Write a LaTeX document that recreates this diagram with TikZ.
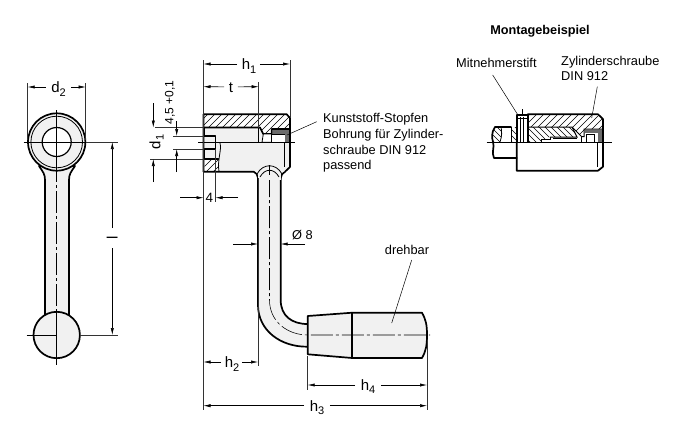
\documentclass[tikz,border=0pt]{standalone}
\usepackage{fontspec}
\setmainfont{Liberation Sans}
\usetikzlibrary{arrows.meta,calc}
\definecolor{bodyfill}{gray}{0.945}
\definecolor{plug}{gray}{0.42}
\tikzset{
  part/.style={line width=1.7pt,line join=round,line cap=round},
  partfill/.style={part,fill=bodyfill},
  thinpart/.style={line width=0.8pt},
  extline/.style={line width=0.45pt,black!80},
  dimin/.style={line width=0.55pt,-{Latex[length=7pt,width=3.2pt]}},
  leader/.style={line width=0.5pt},
  centre/.style={line width=0.55pt,dash pattern=on 22pt off 3pt on 3pt off 3pt},
  axis/.style={line width=0.55pt},
  big/.style={font=\fontsize{15}{15}\selectfont,inner sep=0.5pt},
  note/.style={font=\fontsize{12.8}{15.6}\selectfont,align=left,anchor=north west,inner sep=0pt},
  tag/.style={font=\fontsize{12.8}{15}\selectfont,inner sep=0pt},
}
\newcommand{\sbs}[1]{\raisebox{-0.4ex}{\fontsize{11}{11}\selectfont #1}}
\newcommand{\hatchreg}[1]{\fill[white] #1;\begin{scope}\clip #1;
  \foreach \k in {0,7,...,805}{\draw[line width=0.45pt] (\k,0) -- ++(-200,200);}
  \end{scope}}
\newcommand{\hatchback}[1]{\fill[white] #1;\begin{scope}\clip #1;
  \foreach \k in {-200,-194,...,700}{\draw[line width=0.45pt] (\k,0) -- ++(200,200);}
  \end{scope}}
\begin{document}
\begin{tikzpicture}[x=1pt,y=-1pt]
\useasboundingbox (0,0) rectangle (677,437);
%% ---------- left view
\coordinate (tc) at (56.7,142);
\coordinate (bc) at (56.7,335);
\draw[partfill] (39,166) .. controls (43,172) and (45,174) .. (45,180) -- (45,320) -- (69,320) -- (69,180) .. controls (69,174) and (71,172) .. (75,166) -- cycle;
\draw[partfill] (tc) circle[radius=28.7];
\draw[thinpart] (tc) circle[radius=25.8];
\draw[line width=1.2pt,fill=white] (tc) circle[radius=14.5];
\draw[partfill] (bc) circle[radius=23.2];
\draw[axis] ($(tc)+(-33,0)$) -- ($(tc)+(33,0)$);
\draw[axis] ($(tc)+(0,-32)$) -- ($(tc)+(0,18)$);
\draw[centre] ($(tc)+(0,18)$) -- ($(bc)+(0,-23)$);
\draw[axis] ($(bc)+(-30,0)$) -- ($(bc)+(0,0)$);
\draw[axis] ($(bc)+(0,-23)$) -- ($(bc)+(0,30)$);
\coordinate (d2a) at (27.7,87); \coordinate (d2b) at (85.7,87);
\draw[extline] (27.7,83) -- (27.7,140);
\draw[extline] (85.7,83) -- (85.7,140);
\node[big] (ld2) at (58.5,89) {d\sbs{2}};
\draw[dimin] ($(ld2.west)+(-5,-2)$) -- (d2a);
\draw[dimin] ($(ld2.east)+(5,-2)$) -- (d2b);
\coordinate (la) at (112.3,142); \coordinate (lb) at (112.3,335);
\draw[extline] (86,142) -- (118,142);
\draw[extline] (80,335) -- (118,335);
\node[big,rotate=90,inner sep=0pt] (ll) at (112.3,237.5) {l};
\draw[dimin] (112.3,228) -- (la);
\draw[dimin] (112.3,248) -- (lb);
%% ---------- crank, middle view
\draw[partfill,draw=none] (258,170) -- (258,305) .. controls (258,330) and (280,347) .. (307.5,346.7)
  -- (307.5,324) .. controls (292,324) and (280.7,316) .. (280.7,300) -- (280.7,170) -- cycle;
\draw[part] (258,177) -- (258,305) .. controls (258,330) and (280,347) .. (307.5,346.7);
\draw[part] (307.5,324) .. controls (292,324) and (280.7,316) .. (280.7,300) -- (280.7,177);
\draw[part] (254,171.7) .. controls (256,173) and (258,175) .. (258,178);
\draw[part] (285,171.7) .. controls (283,173) and (280.7,175) .. (280.7,178);
% handle
\draw[partfill] (307.7,316) -- (352.3,312.7) -- (422,312.7) .. controls (426,320) and (427,325) .. (427,335)
  .. controls (427,345) and (426,351) .. (422,358) -- (352.3,358) -- (307.7,354.3) -- cycle;
\draw[part] (352.3,312.7) -- (352.3,358);
\draw[centre] (269.5,175) -- (269.5,300) .. controls (269.5,322) and (288,335) .. (307.7,335) -- (430,335);
% hub
\fill[bodyfill] (203.5,114.3) -- (287,114.3) -- (290,118) -- (290,167) -- (285,171.7) -- (203.5,171.7) -- cycle;
\fill[bodyfill] (258,170) rectangle (280.7,180);
\hatchreg{(203.5,114.3) -- (286.7,114.3) -- (290,118) -- (290,129) -- (271.7,129) -- (271.7,134) -- (263.3,134) -- (260,127.5) -- (203.5,127.5) -- cycle}
\hatchreg{(204.5,159) -- (218.5,159) .. controls (220.5,163) and (218,167) .. (219,171.7) -- (204.5,171.7) -- cycle}
\draw[part] (203.5,127.5) -- (260,127.5) -- (263.3,134) -- (271.7,134) -- (271.7,129) -- (290,129);
\draw[part] (254,171.7) -- (203.5,171.7) -- (203.5,114.3) -- (286.7,114.3) -- (290,118) -- (290,167) -- (285,171.7);
\draw[thinpart,fill=white] (263.3,134) -- (271.7,134) -- (271.7,142.3) -- (262,142.3) -- cycle;
\draw[line width=1pt,fill=white] (271.7,134) rectangle (285,142.3);
\fill[plug] (285,130) rectangle (289,143);
\fill[plug] (272.5,130) rectangle (289,133.5);
\draw[part] (204,127.5) -- (204,136) -- (215.5,136) -- (215.5,149) -- (204.5,149) -- (204.5,159) -- (218.5,159);
\draw[thinpart] (220,143) .. controls (222,150) and (217,160) .. (219,171.7);
\draw[line width=1pt] (258.3,127.5) -- (258.3,142.3);
\draw[line width=1pt] (284.5,142) -- (284.5,167);
\draw[axis] (198,142) -- (295,142);
\draw[thinpart] (257,174) .. controls (263,163) and (276,163) .. (282,174);
\draw[thinpart] (260,177) .. controls (265,168) and (274,168) .. (279,177);
\draw[axis] (269.5,165) -- (269.5,175);
% ext lines
\draw[extline] (203.5,60) -- (203.5,410);
\draw[extline] (290,60) -- (290,118);
\draw[extline] (258.7,82) -- (258.7,128);
\draw[extline] (258,178) -- (258,366);
\draw[extline] (215.5,149) -- (215.5,202);
\draw[extline] (155,127.5) -- (204,127.5);
\draw[extline] (150,159) -- (204,159);
\draw[extline] (173,136) -- (204,136);
\draw[extline] (173,149) -- (204,149);
\draw[extline] (307.7,356) -- (307.7,390);
\draw[extline] (427,340) -- (427,410);
% h1, t
\node[big] (lh1) at (249,66) {h\sbs{1}};
\draw[dimin] ($(lh1.west)+(-4,-2)$) -- (203.5,64);
\draw[dimin] ($(lh1.east)+(3,-2)$) -- (290,64);
\node[big] (lt) at (231,87.5) {t};
\draw[dimin] ($(lt.west)+(-4,-0.7)$) -- (203.5,86.7);
\draw[dimin] ($(lt.east)+(4,-0.7)$) -- (258.7,86.7);
% d1 and 4,5
\node[big,rotate=90] (ld1) at (156.5,142) {d\sbs{1}};
\draw[dimin] (153.3,103) -- (153.3,127.5);
\draw[dimin] (153.3,182) -- (153.3,159);
\draw[dimin] (176.7,121) -- (176.7,136);
\draw[dimin] (176.7,172) -- (176.7,149);
\node[font=\fontsize{12}{12}\selectfont,rotate=90,inner sep=0pt] (ltol) at (170,102.5) {4,5 +0,1};
% 4
\node[big,font=\fontsize{13.5}{13.5}\selectfont,inner sep=0pt] (l4) at (209.5,197.7) {4};
\draw[dimin] (180,197.7) -- (203.5,197.7);
\draw[dimin] (238,197.7) -- (215.5,197.7);
% o8
\draw[dimin] (233,244) -- (258,244);
\draw[dimin] (305,244) -- (280.7,244);
\node[tag,anchor=west] (lo8) at (292,235) {Ø 8};
% h2,h3,h4
\node[big] (lh2) at (232,364) {h\sbs{2}};
\draw[dimin] ($(lh2.west)+(-3,-2)$) -- (203.5,362);
\draw[dimin] ($(lh2.east)+(2,-2)$) -- (258,362);
\node[big] (lh4) at (368,386.5) {h\sbs{4}};
\draw[dimin] ($(lh4.west)+(-5,-1.5)$) -- (307.7,385);
\draw[dimin] ($(lh4.east)+(5,-1.5)$) -- (427,385);
\node[big] (lh3) at (317,407.5) {h\sbs{3}};
\draw[dimin] ($(lh3.west)+(-5,-1.8)$) -- (203.5,405.7);
\draw[dimin] ($(lh3.east)+(5,-1.8)$) -- (427,405.7);
% texts
\node[note] (kunst) at (323,113.5) {Kunststoff-Stopfen\\Bohrung für Zylinder-\\schraube DIN 912\\passend};
\draw[leader] (316.7,121.7) -- (287,135);
\node[tag] (dreh) at (407,250) {drehbar};
\draw[leader] (411.7,260) -- (391.7,323);
%% ---------- assembly
\node[font=\fontsize{12.7}{12.7}\selectfont\bfseries,inner sep=0pt] (mont) at (540,31) {Montagebeispiel};
\node[tag,anchor=west] (mit) at (456,63) {Mitnehmerstift};
\node[note,font=\fontsize{12.8}{15}\selectfont] (zyl) at (561,56) {Zylinderschraube\\DIN 912};
% shaft
\draw[thinpart] (501,127) -- (511.7,127);
\draw[part] (516.7,158) -- (494,158) .. controls (491,152) and (495,147) .. (493,142);
\hatchback{(495,127) .. controls (491,133) and (492,138) .. (493,142) -- (500,142) .. controls (502,136) and (502,132) .. (501,127) -- cycle}
\draw[part] (511,127) -- (495,127) .. controls (491,133) and (492,138) .. (493,142);
\draw[thinpart] (501,127) .. controls (502,132) and (502,136) .. (500,142);
% main body
\hatchreg{(527.7,114.3) -- (598,114.3) -- (603,119) -- (603,129) -- (584,129) -- (584,136.7) -- (581.7,136.7) -- (572,127) -- (527.7,127) -- cycle}
\hatchback{(511.7,127) -- (572,127) -- (577,137) -- (550,137) -- (541.7,140) -- (541.7,142) -- (511.7,142) -- cycle}
\fill[white] (517,115) rectangle (527,142);
\draw[thinpart] (520.5,117) -- (520.5,142);
\draw[thinpart] (523.5,117) -- (523.5,142);
\draw[thinpart] (517,118.5) -- (527,118.5);
\draw[part] (516.7,142) -- (516.7,115) -- (527.7,115) -- (527.7,142);
\draw[part] (527.7,114.3) -- (598,114.3) -- (603,119) -- (603,166.7) -- (598,170.7) -- (516.7,170.7) -- (516.7,142);
\draw[line width=1pt] (511.7,127) -- (511.7,142);
\draw[line width=1pt] (527.7,127) -- (572,127) -- (581.7,136.7) -- (584,136.7) -- (584,129) -- (603,129);
\draw[line width=1pt] (572,127) -- (577,137) -- (550,137);
\draw[line width=1pt] (541.7,142) -- (541.7,139.5) -- (550,139.5) -- (550,137);
\draw[line width=1pt] (553,138.8) -- (577,138.8);
\draw[line width=1pt] (581.7,136.7) -- (581.7,142);
\draw[line width=1pt,fill=white] (586.7,134.3) rectangle (594,142);
\fill[plug] (585,129.7) rectangle (602.3,133);
\fill[plug] (597.5,129.7) rectangle (602.3,143);
\draw[axis] (486.7,142) -- (611.7,142);
\draw[line width=1pt] (597.5,143) -- (597.5,167);
\draw[leader] (492.7,75) -- (517.3,114);
\draw[leader] (597.3,86.7) -- (591.7,118);
\draw[axis] (522,109) -- (522,115);
\end{tikzpicture}
\end{document}
